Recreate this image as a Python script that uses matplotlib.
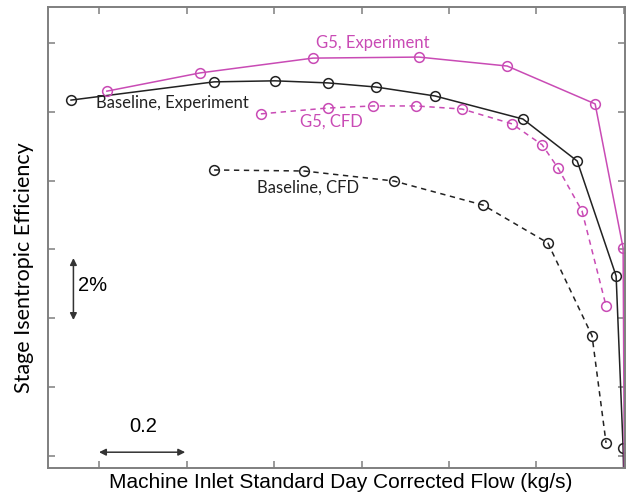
import matplotlib
matplotlib.use("Agg")
import matplotlib.pyplot as plt

# ---- data (flow kg/s, efficiency %) ----
base_exp_x = [0.136, 0.463, 0.602, 0.723, 0.833, 0.968, 1.169, 1.293, 1.382, 1.398, 1.400]
base_exp_y = [90.34, 90.87, 90.90, 90.84, 90.72, 90.46, 89.79, 88.57, 85.23, 80.23, 79.0]

g5_exp_x = [0.218, 0.431, 0.689, 0.931, 1.133, 1.334, 1.398, 1.401]
g5_exp_y = [90.60, 91.13, 91.56, 91.59, 91.33, 90.23, 86.04, 79.0]

g5_cfd_x = [0.570, 0.723, 0.826, 0.925, 1.030, 1.144, 1.213, 1.249, 1.304, 1.359]
g5_cfd_y = [89.94, 90.11, 90.17, 90.17, 90.08, 89.65, 89.04, 88.37, 87.12, 84.36]

base_cfd_x = [0.463, 0.669, 0.874, 1.078, 1.226, 1.327, 1.359]
base_cfd_y = [88.31, 88.28, 87.99, 87.29, 86.19, 83.49, 80.38]

x_ticks = [0.2, 0.4, 0.6, 0.8, 1.0, 1.2, 1.4]
y_ticks = [80, 82, 84, 86, 88, 90, 92]

MAG = "#C94BB5"
BLK = "#222222"
GRAY = "#7f7f7f"

W, H = 631, 495
fig = plt.figure(figsize=(W / 100, H / 100), dpi=100)
ax = fig.add_axes([48 / W, 1 - 468 / H, (625 - 48) / W, (468 - 7) / H])

mk = dict(marker="o", markersize=7, markerfacecolor="none", markeredgewidth=1.1)
ax.plot(base_exp_x, base_exp_y, color=BLK, lw=1.1, markeredgecolor=BLK, **mk)
ax.plot(g5_exp_x, g5_exp_y, color=MAG, lw=1.1, markeredgecolor=MAG, **mk)
ax.plot(g5_cfd_x, g5_cfd_y, color=MAG, lw=1.1, ls=(0, (3.5, 3)), markeredgecolor=MAG, **mk)
ax.plot(base_cfd_x, base_cfd_y, color=BLK, lw=1.1, ls=(0, (3.5, 3)), markeredgecolor=BLK, **mk)

ax.set_xlim(0.0834, 1.4023)
ax.set_ylim(79.651, 93.045)
ax.set_xticks(x_ticks)
ax.set_yticks(y_ticks)
ax.set_xticklabels([])
ax.set_yticklabels([])
ax.tick_params(direction="in", length=5, width=1.1, color=GRAY,
               top=True, right=True, bottom=True, left=True)
for s in ax.spines.values():
    s.set_color(GRAY)
    s.set_linewidth(1.4)

lab_font = dict(family=["Lato", "DejaVu Sans"], fontsize=12)
ax.text(0.826, 92.0, "G5, Experiment", color=MAG, ha="center", va="center", **lab_font)
ax.text(0.368, 90.26, "Baseline, Experiment", color=BLK, ha="center", va="center", **lab_font)
ax.text(0.731, 89.72, "G5, CFD", color=MAG, ha="center", va="center", **lab_font)
ax.text(0.678, 87.79, "Baseline, CFD", color=BLK, ha="center", va="center", **lab_font)

axis_font = dict(family=["Liberation Sans", "DejaVu Sans"], fontsize=15)
fig.text(340.5 / W, 1 - 482 / H, "Machine Inlet Standard Day Corrected Flow (kg/s)",
         ha="center", va="center", **axis_font)
fig.text(24 / W, 1 - 268 / H, "Stage Isentropic Efficiency", rotation=90,
         ha="center", va="center", family=["Lato", "DejaVu Sans"], fontsize=15.5)

# scale arrows
arr = dict(arrowstyle="<|-|>", color="#333333", lw=1.1, mutation_scale=10,
           shrinkA=0, shrinkB=0)
ax.annotate("", xy=(0.1415, 85.75), xytext=(0.1415, 83.95), arrowprops=arr)
ax.text(93 / 437.5 + 0.2 - 99 / 437.5, 80 + (456 - 286) / 34.42, "2%",
        ha="center", va="center", family=["Liberation Sans", "DejaVu Sans"], fontsize=14.5)
ax.annotate("", xy=(0.2, 80.11), xytext=(0.397, 80.11), arrowprops=arr)
ax.text(0.3, 80 + (456 - 427) / 34.42, "0.2", ha="center", va="center",
        family=["Liberation Sans", "DejaVu Sans"], fontsize=14.5)

fig.savefig("out.png", dpi=100)
